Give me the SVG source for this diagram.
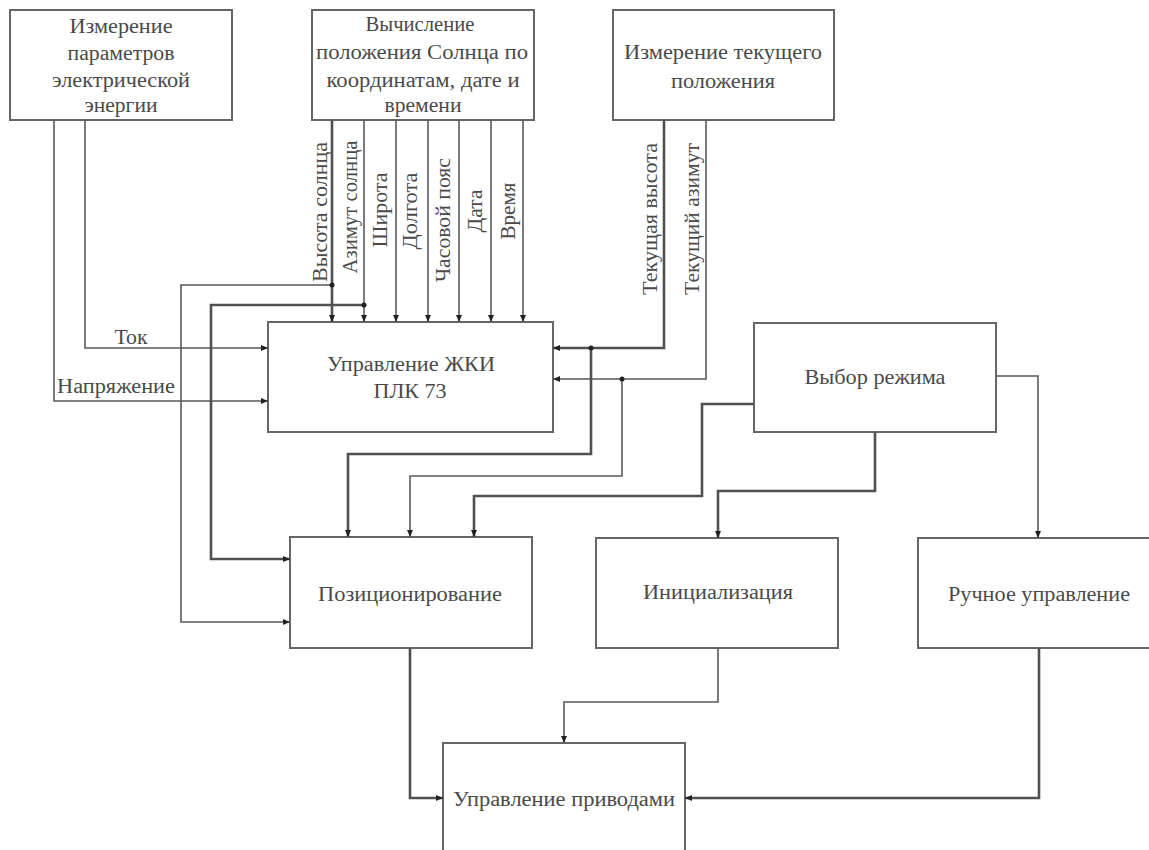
<svg xmlns="http://www.w3.org/2000/svg" width="1149" height="850" viewBox="0 0 1149 850">
<style>
.box{fill:#fff;stroke:#666;stroke-width:2}
.t{font-family:"Liberation Serif","Times New Roman",serif;font-size:20px;fill:#4a4a4a;text-anchor:middle}
.c{fill:none;stroke:#5a5a5a;stroke-width:1.6}
.k{fill:none;stroke:#505050;stroke-width:2.6}
.dot{fill:#222}
</style>
<defs>
<marker id="a" markerUnits="userSpaceOnUse" markerWidth="8" markerHeight="8" viewBox="0 0 8 8" refX="7" refY="4" orient="auto">
<path d="M0,1 L7,4 L0,7 Z" fill="#222"/>
</marker>
</defs>
<rect width="1149" height="850" fill="#fff"/>

<g id="n-measure-energy">
<rect class="box" x="10" y="10" width="222" height="110"/>
<text class="t" x="121" y="33" textLength="103" lengthAdjust="spacingAndGlyphs">Измерение</text>
<text class="t" x="121" y="60" textLength="107" lengthAdjust="spacingAndGlyphs">параметров</text>
<text class="t" x="121" y="87" textLength="138" lengthAdjust="spacingAndGlyphs">электрической</text>
<text class="t" x="121" y="112" textLength="73" lengthAdjust="spacingAndGlyphs">энергии</text>
</g>

<g id="n-sun-calc">
<rect class="box" x="312" y="10" width="222" height="110"/>
<text class="t" x="420" y="31" textLength="109" lengthAdjust="spacingAndGlyphs">Вычисление</text>
<text class="t" x="422" y="59" textLength="212" lengthAdjust="spacingAndGlyphs">положения Солнца по</text>
<text class="t" x="423" y="87" textLength="193" lengthAdjust="spacingAndGlyphs">координатам, дате и</text>
<text class="t" x="423" y="112" textLength="77" lengthAdjust="spacingAndGlyphs">времени</text>
</g>

<g id="n-measure-pos">
<rect class="box" x="613" y="10" width="221" height="110"/>
<text class="t" x="723" y="59" textLength="198" lengthAdjust="spacingAndGlyphs">Измерение текущего</text>
<text class="t" x="723" y="88" textLength="104" lengthAdjust="spacingAndGlyphs">положения</text>
</g>

<g id="n-plc">
<rect class="box" x="268" y="322" width="285" height="110"/>
<text class="t" x="411" y="371" textLength="168" lengthAdjust="spacingAndGlyphs">Управление ЖКИ</text>
<text class="t" x="410" y="398" textLength="73" lengthAdjust="spacingAndGlyphs">ПЛК 73</text>
</g>

<g id="n-mode">
<rect class="box" x="754" y="323" width="242" height="109"/>
<text class="t" x="875" y="384" textLength="141" lengthAdjust="spacingAndGlyphs">Выбор режима</text>
</g>

<g id="n-positioning">
<rect class="box" x="290" y="537" width="242" height="111"/>
<text class="t" x="410" y="601" textLength="184" lengthAdjust="spacingAndGlyphs">Позиционирование</text>
</g>

<g id="n-init">
<rect class="box" x="596" y="538" width="242" height="110"/>
<text class="t" x="718" y="599" textLength="150" lengthAdjust="spacingAndGlyphs">Инициализация</text>
</g>

<g id="n-manual">
<rect class="box" x="918" y="538" width="245" height="110"/>
<text class="t" x="1039" y="601" textLength="182" lengthAdjust="spacingAndGlyphs">Ручное управление</text>
</g>

<g id="n-drives">
<rect class="box" x="443" y="743" width="242" height="120"/>
<text class="t" x="564" y="806" textLength="222" lengthAdjust="spacingAndGlyphs">Управление приводами</text>
</g>

<g id="connectors">
<path class="c" d="M85,120 V348 H268" marker-end="url(#a)"/>
<path class="c" d="M54,120 V401 H268" marker-end="url(#a)"/>
<path class="k" d="M332,120 V322" marker-end="url(#a)"/>
<path class="c" d="M364,120 V322" marker-end="url(#a)"/>
<path class="c" d="M396,120 V322" marker-end="url(#a)"/>
<path class="c" d="M428,120 V322" marker-end="url(#a)"/>
<path class="c" d="M459,120 V322" marker-end="url(#a)"/>
<path class="c" d="M491,120 V322" marker-end="url(#a)"/>
<path class="c" d="M523,120 V322" marker-end="url(#a)"/>
<path class="c" d="M332,285 H181 V622 H290" marker-end="url(#a)"/>
<path class="k" d="M364,305 H211 V559 H290" marker-end="url(#a)"/>
<path class="k" d="M664,120 V348 H553" marker-end="url(#a)"/>
<path class="c" d="M706,120 V379 H553" marker-end="url(#a)"/>
<path class="k" d="M591,348 V454 H348 V537" marker-end="url(#a)"/>
<path class="c" d="M622,379 V476 H410 V537" marker-end="url(#a)"/>
<path class="k" d="M754,404 H702 V496 H474 V537" marker-end="url(#a)"/>
<path class="k" d="M875,432 V491 H718 V538" marker-end="url(#a)"/>
<path class="c" d="M996,376 H1038 V538" marker-end="url(#a)"/>
<path class="k" d="M410,648 V798 H443" marker-end="url(#a)"/>
<path class="c" d="M718,648 V702 H564 V743" marker-end="url(#a)"/>
<path class="k" d="M1039,648 V798 H685" marker-end="url(#a)"/>
<circle class="dot" cx="332" cy="285" r="2.5"/>
<circle class="dot" cx="364" cy="305" r="2.5"/>
<circle class="dot" cx="591" cy="348" r="2.5"/>
<circle class="dot" cx="622" cy="379" r="2.5"/>
<text class="t" x="131" y="344" textLength="33" lengthAdjust="spacingAndGlyphs">Ток</text>
<text class="t" x="116" y="393" textLength="118" lengthAdjust="spacingAndGlyphs">Напряжение</text>
<text class="t" transform="translate(327,212) rotate(-90)" textLength="140" lengthAdjust="spacingAndGlyphs">Высота солнца</text>
<text class="t" transform="translate(357,207) rotate(-90)" textLength="133" lengthAdjust="spacingAndGlyphs">Азимут солнца</text>
<text class="t" transform="translate(387,210) rotate(-90)" textLength="75" lengthAdjust="spacingAndGlyphs">Широта</text>
<text class="t" transform="translate(417,211) rotate(-90)" textLength="77" lengthAdjust="spacingAndGlyphs">Долгота</text>
<text class="t" transform="translate(450,220) rotate(-90)" textLength="124" lengthAdjust="spacingAndGlyphs">Часовой пояс</text>
<text class="t" transform="translate(482,211) rotate(-90)" textLength="43" lengthAdjust="spacingAndGlyphs">Дата</text>
<text class="t" transform="translate(515,211) rotate(-90)" textLength="57" lengthAdjust="spacingAndGlyphs">Время</text>
<text class="t" transform="translate(657,219) rotate(-90)" textLength="152" lengthAdjust="spacingAndGlyphs">Текущая высота</text>
<text class="t" transform="translate(699,219) rotate(-90)" textLength="152" lengthAdjust="spacingAndGlyphs">Текущий азимут</text>
</g>
</svg>
